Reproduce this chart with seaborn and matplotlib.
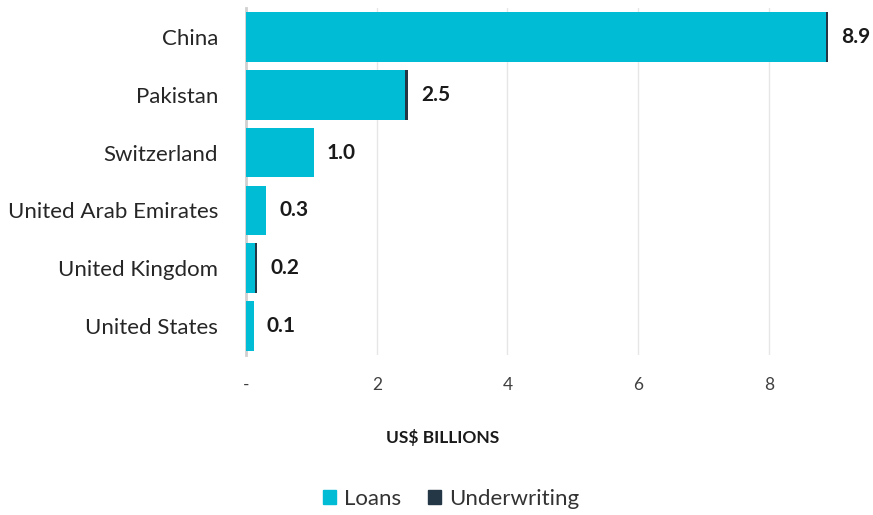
import pandas as pd
import seaborn as sns
import matplotlib.pyplot as plt
from matplotlib.patches import Patch

countries = ['China', 'Pakistan', 'Switzerland', 'United Arab Emirates',
             'United Kingdom', 'United States']
loans = [8.88, 2.43, 1.04, 0.31, 0.14, 0.12]
underwriting = [0.03, 0.05, 0.0, 0.0, 0.03, 0.0]
labels = ['8.9', '2.5', '1.0', '0.3', '0.2', '0.1']

df = pd.DataFrame({'country': countries, 'loans': loans, 'underwriting': underwriting})
df['total'] = df['loans'] + df['underwriting']

sns.set_style('white')
plt.rcParams['font.family'] = ['Lato', 'DejaVu Sans']

cyan = '#00BCD4'
navy = '#243746'

fig = plt.figure(figsize=(8.73, 5.15), dpi=100)
ax = fig.add_axes([246 / 873, 1 - 355 / 515, (867 - 246) / 873, (355 - 8) / 515])

sns.barplot(data=df, x='total', y='country', color=navy, width=0.86,
            saturation=1, linewidth=0, ax=ax, zorder=3)
sns.barplot(data=df, x='loans', y='country', color=cyan, width=0.86,
            saturation=1, linewidth=0, ax=ax, zorder=3)

for i, (t, lab) in enumerate(zip(df['total'], labels)):
    ax.text(t + 0.2, i, lab, va='center', ha='left', fontsize=15,
            fontweight='bold', color='#1a1a1a')

ax.set_xlim(0, 9.5)
ax.set_xticks([0, 2, 4, 6, 8])
ax.set_xticklabels(['-', '2', '4', '6', '8'], fontsize=12.5, color='#404040')
ax.tick_params(axis='x', length=0, pad=16)
ax.tick_params(axis='y', length=0, pad=20, labelsize=16, labelcolor='#262626')
ax.grid(axis='x', color='#e6e6e6', linewidth=1, zorder=0)
ax.set_axisbelow(True)
for s in ['top', 'right', 'bottom']:
    ax.spines[s].set_visible(False)
ax.spines['left'].set_color('#d0d0d0')
ax.spines['left'].set_linewidth(2)
ax.set_ylabel('')
ax.set_xlabel('')

fig.text(443 / 873, 1 - 438 / 515, 'US$ BILLIONS', ha='center', va='center',
         fontsize=12.5, fontweight='bold', color='#1a1a1a')

handles = [Patch(color=cyan, label='Loans'), Patch(color=navy, label='Underwriting')]
fig.legend(handles=handles, loc='center', bbox_to_anchor=(451 / 873, 1 - 499 / 515),
           ncol=2, frameon=False, fontsize=16, handlelength=0.6, handleheight=0.6,
           handletextpad=0.35, columnspacing=1.2, labelcolor='#333333')

fig.savefig('out.png', dpi=100)
